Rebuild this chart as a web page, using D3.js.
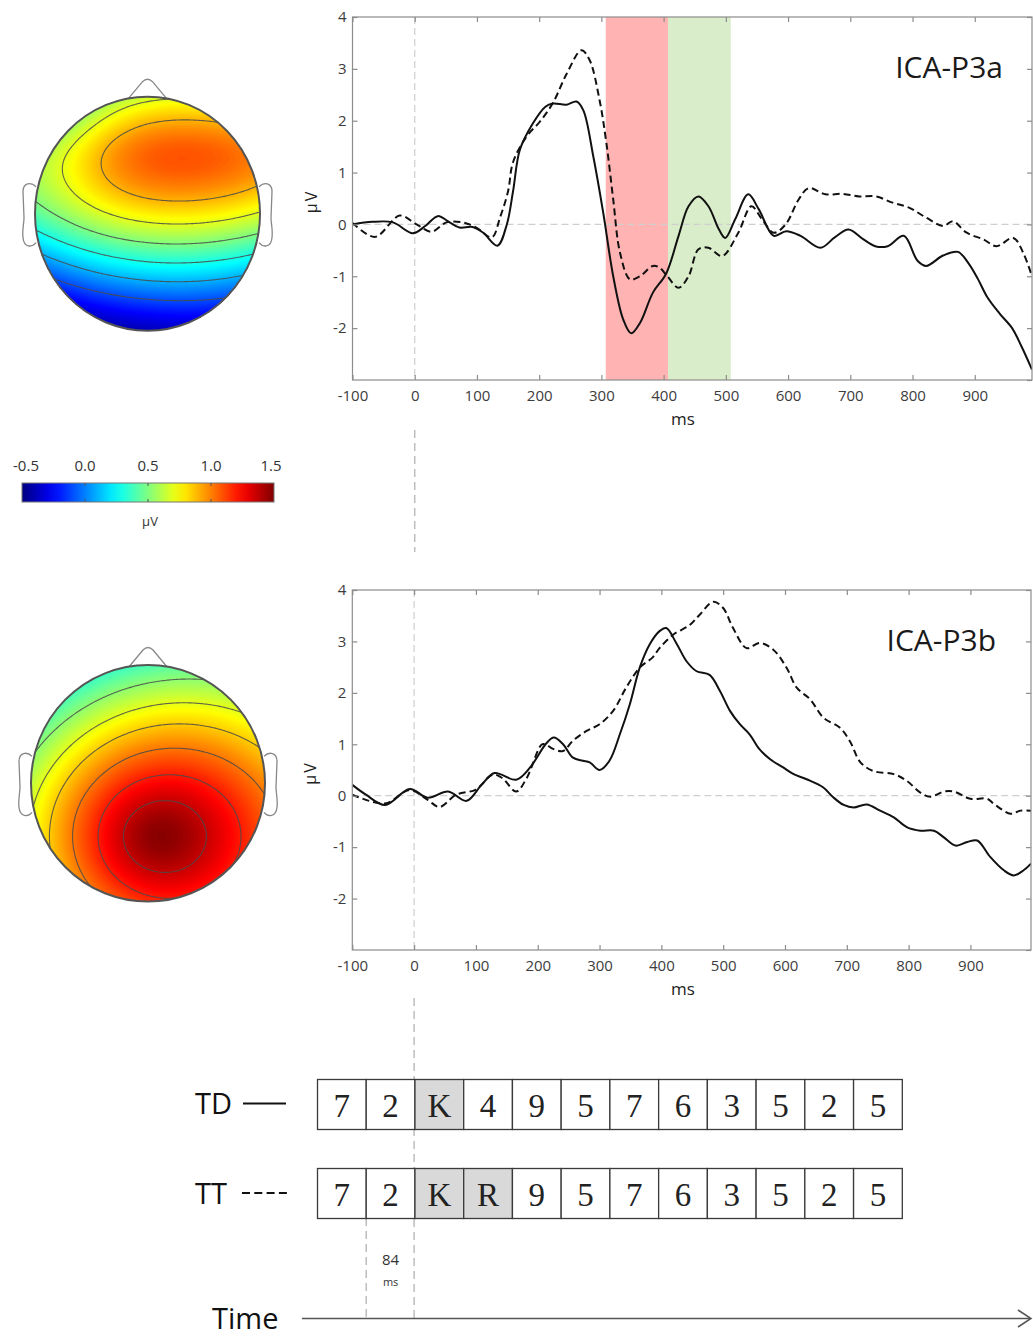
<!DOCTYPE html>
<html>
<head>
<meta charset="utf-8">
<script src="https://cdn.jsdelivr.net/npm/d3@7"></script>
<style>
  body { margin: 0; background: #fff; }
  svg { display: block; font-family: "Open Sans", "Noto Sans", sans-serif; }
</style>
</head>
<body>
<svg id="fig" width="1033" height="1338"></svg>
<script>
// ---------------------------------------------------------------
// Axis ticks
const msTicks = [-100, 0, 100, 200, 300, 400, 500, 600, 700, 800, 900];
const uvTicks = [-2, -1, 0, 1, 2, 3, 4];
const uvFrameTicks = [-3, -2, -1, 0, 1, 2, 3, 4];

// ICA-P3a component: [ms, µV]
const p3aTD = [
  [-100, 0.0], [-68, 0.05], [-35, 0.04], [-3, -0.17], [18, -0.02], [37, 0.16], [56, 0.04],
  [72, -0.06], [93, -0.05], [110, -0.16], [133, -0.41], [148, 0.0], [158, 0.64], [169, 1.44],
  [190, 1.95], [210, 2.27], [222, 2.33], [244, 2.31], [260, 2.37], [271, 2.2], [287, 1.31],
  [303, 0.22], [319, -1.0], [335, -1.83], [348, -2.1], [362, -1.9], [383, -1.31], [404, -0.95],
  [424, -0.22], [440, 0.35], [456, 0.54], [472, 0.35], [489, -0.1], [499, -0.26], [515, 0.1],
  [536, 0.58], [553, 0.29], [577, -0.22], [597, -0.13], [620, -0.22], [652, -0.45], [675, -0.25],
  [697, -0.1], [720, -0.28], [740, -0.42], [760, -0.42], [786, -0.22], [808, -0.7], [822, -0.8],
  [849, -0.6], [873, -0.53], [890, -0.75], [905, -1.05], [920, -1.4], [940, -1.72], [960, -2.0],
  [975, -2.35], [992, -2.8]
];
const p3aTT = [
  [-100, 0.03], [-64, -0.24], [-24, 0.17], [3, 0.0], [27, -0.14], [51, 0.04], [77, 0.04],
  [99, -0.06], [124, -0.25], [137, 0.13], [150, 0.64], [158, 1.2], [180, 1.7], [201, 1.98],
  [222, 2.34], [244, 2.9], [268, 3.36], [281, 3.17], [297, 2.4], [308, 1.57], [319, 0.48],
  [330, -0.55], [346, -1.06], [362, -1.0], [383, -0.8], [394, -0.84], [406, -1.0], [424, -1.22],
  [440, -1.0], [456, -0.48], [472, -0.45], [494, -0.61], [520, -0.16], [541, 0.35], [558, 0.1],
  [577, -0.16], [596, 0.0], [617, 0.48], [633, 0.7], [660, 0.58], [687, 0.59], [714, 0.54],
  [741, 0.54], [768, 0.42], [795, 0.32], [822, 0.13], [849, -0.03], [865, 0.06], [887, -0.16],
  [914, -0.29], [935, -0.42], [962, -0.26], [978, -0.55], [992, -1.0]
];
// analysis windows shaded in the P3a panel (ms)
const p3aWindowEdges = [307, 407, 508];

// ICA-P3b component: [ms, µV]
const p3bTD = [
  [-100, 0.21], [-78, 0.02], [-47, -0.18], [-7, 0.13], [22, -0.04], [55, 0.08], [85, -0.1],
  [109, 0.21], [130, 0.44], [165, 0.31], [187, 0.54], [214, 1.02], [226, 1.13], [241, 1.0],
  [257, 0.74], [273, 0.68], [284, 0.65], [300, 0.5], [316, 0.68], [333, 1.2], [349, 1.78],
  [365, 2.49], [381, 2.94], [397, 3.2], [408, 3.26], [424, 2.97], [441, 2.61], [457, 2.42],
  [478, 2.35], [495, 2.03], [511, 1.65], [527, 1.39], [543, 1.19], [559, 0.9], [576, 0.71],
  [597, 0.55], [614, 0.42], [635, 0.32], [662, 0.16], [678, -0.03], [695, -0.18], [711, -0.23],
  [732, -0.17], [754, -0.29], [776, -0.42], [797, -0.61], [819, -0.68], [841, -0.68],
  [857, -0.81], [876, -0.97], [895, -0.9], [911, -0.87], [932, -1.19], [954, -1.45],
  [970, -1.55], [986, -1.45], [998, -1.32]
];
const p3bTT = [
  [-100, 0.02], [-47, -0.15], [-7, 0.11], [22, -0.08], [41, -0.22], [68, 0.02], [100, 0.12],
  [127, 0.41], [143, 0.34], [165, 0.08], [182, 0.34], [206, 0.99], [212, 1.0], [225, 0.91],
  [241, 0.87], [257, 1.07], [279, 1.26], [300, 1.39], [322, 1.65], [343, 2.1], [365, 2.49],
  [386, 2.69], [397, 2.87], [419, 3.13], [446, 3.32], [462, 3.52], [484, 3.77], [500, 3.65],
  [516, 3.26], [538, 2.87], [559, 2.97], [581, 2.84], [603, 2.48], [619, 2.1], [641, 1.87],
  [662, 1.52], [689, 1.32], [705, 1.06], [722, 0.65], [743, 0.48], [776, 0.42], [797, 0.29],
  [819, 0.06], [835, -0.02], [857, 0.08], [873, 0.08], [900, -0.06], [927, -0.06],
  [938, -0.16], [965, -0.35], [981, -0.29], [998, -0.29]
];

// Scalp maps: field terms in head coordinates (u right, v toward nose, radius 1)
// base: [c0, cu, cv, cuu, cvv, cvvv]; bumps: [u0, v0, amp, su, sv]; cones: [u0, v0, slope, sx, e]
const p3aBase = [0.784, 0.1, 1.04, -0.2, -0.523, -0.551];
const p3aBumps = [[-0.9, 0.7, -0.25, 0.42, 0.42], [0, -1.2, -0.2, 1.0, 0.3], [0, 0.85, -0.11, 2.0, 0.2]];
const p3aCones = [];
const p3aLevels = [-0.1, 0.1, 0.3, 0.5, 0.7, 0.9];

const p3bBase = [1.47, 0.14, 0, 0, 0, 0];
const p3bBumps = [];
const p3bCones = [[0.06, -0.45, 0.88, 0.87, 0.255]];
const p3bLevels = [0.53, 0.7, 0.85, 1.02, 1.2, 1.36];

// Colour bar
const cbDomain = [-0.5, 1.5];
const cbTicks = [-0.5, 0.0, 0.5, 1.0, 1.5];

// Letter streams
const tdStream = ["7", "2", "K", "4", "9", "5", "7", "6", "3", "5", "2", "5"];
const ttStream = ["7", "2", "K", "R", "9", "5", "7", "6", "3", "5", "2", "5"];
const soaLabel = ["84", "ms"];

// ---------------------------------------------------------------
const svg = d3.select("#fig");
const defs = svg.append("defs");
const SANS = '"Open Sans", "Noto Sans", sans-serif';
const SERIF = '"Liberation Serif", "DejaVu Serif", serif';

function jet(t) {
  t = Math.max(0, Math.min(1, t));
  const c = x => Math.max(0, Math.min(1, x));
  const r = c(1.5 - Math.abs(4 * t - 3));
  const g = c(1.5 - Math.abs(4 * t - 2));
  const b = c(1.5 - Math.abs(4 * t - 1));
  return d3.rgb(r * 255, g * 255, b * 255).formatHex();
}
const toT = d3.scaleLinear(cbDomain, [0, 1]).clamp(true);

function fieldValue(u, v, base, bumps, cones) {
  const [c0, cu, cv, cuu, cvv, cvvv] = base;
  let f = c0 + cu * u + cv * v + cuu * u * u + cvv * v * v + cvvv * v * v * v;
  for (const [u0, v0, a, su, sv] of bumps)
    f += a * Math.exp(-((u - u0) ** 2 / (2 * su * su) + (v - v0) ** 2 / (2 * sv * sv)));
  for (const [u0, v0, slope, sx, e] of cones)
    f -= slope * (Math.sqrt((sx * (u - u0)) ** 2 + (v - v0) ** 2 + e * e) - e);
  return f;
}

function drawHead(h, base, bumps, cones, levels, id) {
  const g = svg.append("g");
  const { cx, cy, rx, ry } = h;
  const top = cy - ry;
  // nose
  g.append("path")
    .attr("d", `M${cx - 20},${top + 3} L${cx - 5},${top - 15} Q${cx},${top - 20} ${cx + 5},${top - 15} L${cx + 20},${top + 3}`)
    .attr("fill", "#fff").attr("stroke", "#888").attr("stroke-width", 1.3);
  // ears
  const ear = s => {
    const ex = cx + s * rx;
    const X = d => ex + s * d;
    return `M${X(-1)},${cy - 27} C${X(4)},${cy - 32} ${X(12)},${cy - 31} ${X(12)},${cy - 22}` +
      ` L${X(11)},${cy + 4} C${X(11)},${cy + 10} ${X(13)},${cy + 16} ${X(12)},${cy + 24}` +
      ` C${X(11)},${cy + 34} ${X(3)},${cy + 34} ${X(-1)},${cy + 29}`;
  };
  [-1, 1].forEach(s => g.append("path").attr("d", ear(s))
    .attr("fill", "#fff").attr("stroke", "#888").attr("stroke-width", 1.3));

  defs.append("clipPath").attr("id", id)
    .append("ellipse").attr("cx", cx).attr("cy", cy).attr("rx", rx).attr("ry", ry);

  const n = 161, span = 1.05;
  const vals = new Float64Array(n * n);
  for (let j = 0; j < n; j++) {
    const v = span - (j + 0.5) / n * 2 * span;
    for (let i = 0; i < n; i++) {
      const u = -span + (i + 0.5) / n * 2 * span;
      vals[j * n + i] = fieldValue(u, v, base, bumps, cones);
    }
  }
  const proj = d3.geoTransform({
    point(px, py) {
      this.stream.point(cx + (-span + px / n * 2 * span) * rx, cy + (-span + py / n * 2 * span) * ry);
    }
  });
  const path = d3.geoPath(proj);
  const [mn, mx] = d3.extent(vals);
  const fillLevels = d3.range(Math.floor(mn * 100) / 100, mx, 0.01);

  const m = g.append("g").attr("clip-path", `url(#${id})`);
  m.append("ellipse").attr("cx", cx).attr("cy", cy).attr("rx", rx + 2).attr("ry", ry + 2)
    .attr("fill", jet(toT(mn)));
  m.selectAll("path.band")
    .data(d3.contours().size([n, n]).thresholds(fillLevels)(vals))
    .join("path").attr("class", "band")
    .attr("d", path).attr("fill", d => jet(toT(d.value + 0.005)));
  m.selectAll("path.iso")
    .data(d3.contours().size([n, n]).thresholds(levels)(vals))
    .join("path").attr("class", "iso")
    .attr("d", path).attr("fill", "none").attr("stroke", "#4a4a4a")
    .attr("stroke-opacity", 0.85).attr("stroke-width", 1.1);

  g.append("ellipse").attr("cx", cx).attr("cy", cy).attr("rx", rx).attr("ry", ry)
    .attr("fill", "none").attr("stroke", "#555").attr("stroke-width", 2);
}

drawHead({ cx: 147.5, cy: 213.7, rx: 112.5, ry: 117 }, p3aBase, p3aBumps, p3aCones, p3aLevels, "headA");
drawHead({ cx: 148, cy: 783.3, rx: 117, ry: 118.3 }, p3bBase, p3bBumps, p3bCones, p3bLevels, "headB");

// colour bar
(function () {
  const cb = d3.scaleLinear(cbDomain, [22, 274]);
  const grad = defs.append("linearGradient").attr("id", "jetGrad");
  d3.range(0, 1.0001, 0.05).forEach(t =>
    grad.append("stop").attr("offset", t).attr("stop-color", jet(t)));
  const g = svg.append("g");
  g.append("rect").attr("x", 22).attr("y", 483).attr("width", 252).attr("height", 19)
    .attr("fill", "url(#jetGrad)").attr("stroke", "#777").attr("stroke-width", 1);
  cbTicks.slice(1, -1).forEach(v => {
    g.append("line").attr("x1", cb(v)).attr("x2", cb(v)).attr("y1", 483).attr("y2", 486).attr("stroke", "#555");
    g.append("line").attr("x1", cb(v)).attr("x2", cb(v)).attr("y1", 499).attr("y2", 502).attr("stroke", "#555");
  });
  g.selectAll("text.cbl").data(cbTicks).join("text").attr("class", "cbl")
    .attr("x", d => Math.max(26, Math.min(271, cb(d))))
    .attr("y", 471).attr("text-anchor", "middle")
    .style("font-size", "15px").attr("fill", "#333")
    .text(d => d3.format(".1f")(d).replace("\u2212", "-"));
  g.append("text").attr("x", 150).attr("y", 526).attr("text-anchor", "middle")
    .style("font-size", "13px").attr("fill", "#333").text("\u00b5V");
})();

// ERP panels
function drawERP(p, td, tt, title, windows) {
  const x = d3.scaleLinear([-100, p.msMax], [p.left, p.right]);
  const y = d3.scaleLinear([-3, 4], [p.bottom, p.top]);
  const g = svg.append("g");
  const cid = "clip" + p.id;
  defs.append("clipPath").attr("id", cid).append("rect")
    .attr("x", p.left).attr("y", p.top).attr("width", p.right - p.left).attr("height", p.bottom - p.top);

  if (windows) {
    const cols = ["#ffb3b3", "#d9edca"];
    d3.pairs(windows).forEach(([a, b], i) =>
      g.append("rect").attr("x", x(a)).attr("y", p.top).attr("width", x(b) - x(a))
        .attr("height", p.bottom - p.top).attr("fill", cols[i]));
  }
  // zero references
  g.append("line").attr("x1", p.left).attr("x2", p.right).attr("y1", y(0)).attr("y2", y(0))
    .attr("stroke", "#cfcfcf").attr("stroke-width", 1.2).attr("stroke-dasharray", "7,4");
  g.append("line").attr("x1", x(0)).attr("x2", x(0)).attr("y1", p.top).attr("y2", p.bottom)
    .attr("stroke", "#cfcfcf").attr("stroke-width", 1.2).attr("stroke-dasharray", "7,4");

  const line = d3.line().x(d => x(d[0])).y(d => y(d[1])).curve(d3.curveCatmullRom.alpha(0.5));
  const cg = g.append("g").attr("clip-path", `url(#${cid})`);
  cg.append("path").datum(tt).attr("d", line).attr("fill", "none")
    .attr("stroke", "#111").attr("stroke-width", 2).attr("stroke-dasharray", "7,4");
  cg.append("path").datum(td).attr("d", line).attr("fill", "none")
    .attr("stroke", "#111").attr("stroke-width", 2);

  // frame with inward ticks
  g.append("rect").attr("x", p.left).attr("y", p.top).attr("width", p.right - p.left)
    .attr("height", p.bottom - p.top).attr("fill", "none").attr("stroke", "#8c8c8c").attr("stroke-width", 1.2);
  const fmt = d => String(d);
  const styleAxis = sel => {
    sel.select(".domain").remove();
    sel.selectAll(".tick line").attr("stroke", "#8c8c8c").attr("stroke-width", 1.2);
    sel.selectAll(".tick text").attr("fill", "#3c3c3c")
      .style("font-size", "15px").style("font-family", SANS);
  };
  g.append("g").attr("transform", `translate(0,${p.bottom})`)
    .call(d3.axisBottom(x).tickValues(msTicks).tickSize(-5).tickPadding(10).tickFormat(fmt)).call(styleAxis);
  g.append("g").attr("transform", `translate(0,${p.top})`)
    .call(d3.axisTop(x).tickValues(msTicks).tickSize(-5).tickFormat(() => "")).call(styleAxis);
  g.append("g").attr("transform", `translate(${p.left},0)`)
    .call(d3.axisLeft(y).tickValues(uvTicks).tickSize(-5).tickPadding(6).tickFormat(fmt)).call(styleAxis);
  g.append("g").attr("transform", `translate(${p.right},0)`)
    .call(d3.axisRight(y).tickValues(uvFrameTicks).tickSize(-5).tickFormat(() => "")).call(styleAxis);

  g.append("text").attr("transform", `translate(${p.left - 36},${(y(0) + y(1)) / 2 + 3}) rotate(-90)`)
    .attr("text-anchor", "middle").style("font-size", "16px").attr("letter-spacing", 2)
    .attr("fill", "#222").text("\u00b5V");
  g.append("text").attr("x", 683).attr("y", p.bottom + 45).attr("text-anchor", "middle")
    .style("font-size", "17px").attr("fill", "#222").text("ms");
  g.append("text").attr("x", p.titleX).attr("y", p.titleY).attr("text-anchor", "end")
    .style("font-size", "30px").attr("fill", "#1a1a1a").text(title);
  return x;
}

const xA = drawERP({ id: "A", left: 352.5, right: 1032, top: 17, bottom: 380, msMax: 992, titleX: 1003, titleY: 78 },
  p3aTD, p3aTT, "ICA-P3a", p3aWindowEdges);
const xB = drawERP({ id: "B", left: 352.3, right: 1031, top: 590, bottom: 950, msMax: 998, titleX: 996, titleY: 651 },
  p3bTD, p3bTT, "ICA-P3b", null);

// stimulus-onset guides
const guide = (x0, y1, y2) => svg.append("line").attr("x1", x0).attr("x2", x0).attr("y1", y1).attr("y2", y2)
  .attr("stroke", "#bdbdbd").attr("stroke-width", 1.5).attr("stroke-dasharray", "8,5");
guide(xA(0), 430, 552);
guide(xB(0), 998, 1320);

// letter streams
const cell = d3.scaleBand().domain(d3.range(tdStream.length)).range([317.5, 902.3]);
guide(cell(1), 1218, 1320);

function drawStream(stream, yTop) {
  const g = svg.append("g");
  g.selectAll("rect").data(stream).join("rect")
    .attr("x", (d, i) => cell(i)).attr("y", yTop).attr("width", cell.bandwidth()).attr("height", 50)
    .attr("fill", d => isNaN(+d) ? "#d9d9d9" : "#fff")
    .attr("stroke", "#3a3a3a").attr("stroke-width", 1.3);
  g.selectAll("text").data(stream).join("text")
    .attr("x", (d, i) => cell(i) + cell.bandwidth() / 2).attr("y", yTop + 37)
    .attr("text-anchor", "middle").style("font-size", "33px")
    .style("font-family", SERIF).attr("fill", "#222")
    .text(d => d);
}
drawStream(tdStream, 1079.5);
drawStream(ttStream, 1168.5);

const big = sel => sel.style("font-size", "29px").attr("fill", "#111");
svg.append("text").attr("x", 195).attr("y", 1114).call(big).text("TD");
svg.append("line").attr("x1", 243).attr("x2", 286).attr("y1", 1103.5).attr("y2", 1103.5)
  .attr("stroke", "#111").attr("stroke-width", 2);
svg.append("text").attr("x", 195).attr("y", 1204).call(big).text("TT");
svg.append("line").attr("x1", 242).attr("x2", 287).attr("y1", 1193).attr("y2", 1193)
  .attr("stroke", "#111").attr("stroke-width", 2).attr("stroke-dasharray", "8,4.3");

const soaX = (cell(1) + cell(2)) / 2;
svg.append("text").attr("x", soaX).attr("y", 1265).attr("text-anchor", "middle")
  .style("font-size", "15px").attr("fill", "#333").text(soaLabel[0]);
svg.append("text").attr("x", soaX).attr("y", 1286).attr("text-anchor", "middle")
  .style("font-size", "11px").attr("fill", "#333").text(soaLabel[1]);

// time arrow
svg.append("text").attr("x", 212).attr("y", 1329).call(big).text("Time");
svg.append("line").attr("x1", 302).attr("x2", 1030).attr("y1", 1318.5).attr("y2", 1318.5)
  .attr("stroke", "#555").attr("stroke-width", 1.5);
svg.append("path").attr("d", "M1018,1310 L1031,1318.5 L1018,1327").attr("fill", "none")
  .attr("stroke", "#555").attr("stroke-width", 1.5);
</script>
</body>
</html>
